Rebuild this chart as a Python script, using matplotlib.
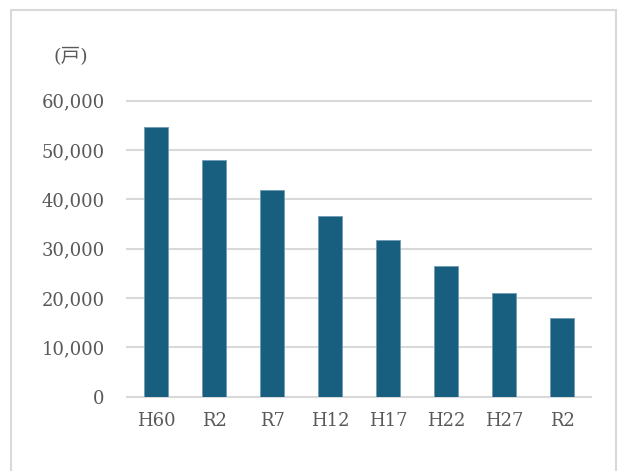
import matplotlib.pyplot as plt
from matplotlib.patches import Rectangle

# 戸数の推移
categories = ['H60', 'R2', 'R7', 'H12', 'H17', 'H22', 'H27', 'R2']
households = [54600, 47900, 41900, 36700, 31700, 26400, 21100, 15900]
yticks = [0, 10000, 20000, 30000, 40000, 50000, 60000]

bar_color = '#175e7f'
text_color = '#595959'
grid_color = '#d9d9d9'

fig = plt.figure(figsize=(6.18, 4.71), dpi=100)
ax = fig.add_axes([0.2055, 0.1577, 0.7508, 0.6285])

x = range(len(categories))
ax.bar(x, households, width=0.4, color=bar_color, edgecolor='#6f9bb4', linewidth=0.6, zorder=3)

ax.set_xlim(-0.5, len(categories) - 0.5)
ax.set_ylim(0, 60000)
ax.set_yticks(yticks)
ax.set_yticklabels([f'{v:,}' for v in yticks])
ax.set_xticks(list(x))
ax.set_xticklabels(categories)

ax.grid(axis='y', color=grid_color, linewidth=1.5, zorder=0)
for gl in ax.get_ygridlines():
    gl.set_clip_on(False)
for s in ax.spines.values():
    s.set_visible(False)

ax.tick_params(axis='both', length=0, labelcolor=text_color, labelsize=13)
ax.tick_params(axis='y', pad=16)
ax.tick_params(axis='x', pad=11)
for lbl in ax.get_xticklabels() + ax.get_yticklabels():
    lbl.set_family('DejaVu Serif')

fig.text(71 / 618, 1 - 57 / 471, '(戸)', ha='center', va='center', fontsize=14,
         color=text_color, family=['DejaVu Serif', 'Noto Sans CJK JP'])

# 外枠
fig.patches.append(Rectangle((11 / 618, -0.05), 605 / 618, 1.05 - 10 / 471,
                             transform=fig.transFigure, fill=False,
                             edgecolor=grid_color, linewidth=1.5))

fig.savefig('out.png', dpi=100)
